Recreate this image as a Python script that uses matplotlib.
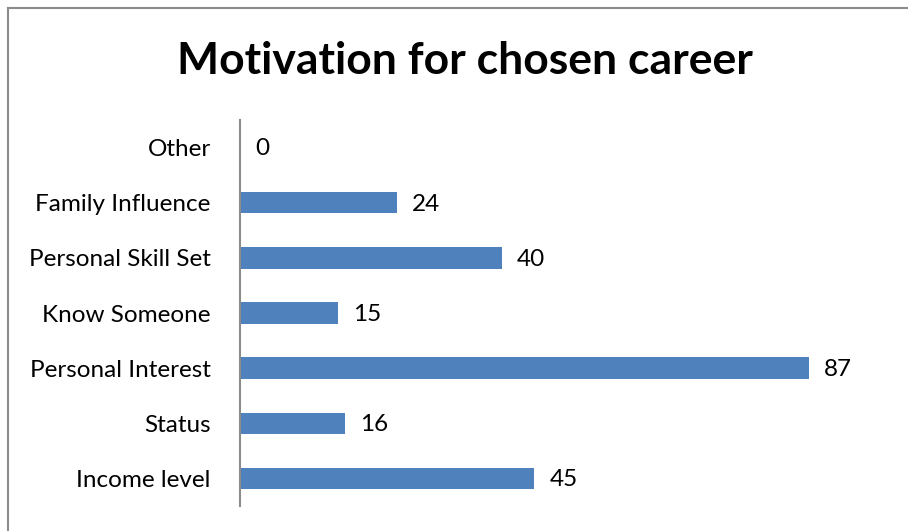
import matplotlib
matplotlib.use("Agg")
import matplotlib.pyplot as plt
from matplotlib.lines import Line2D

categories = ["Income level", "Status", "Personal Interest", "Know Someone",
              "Personal Skill Set", "Family Influence", "Other"]
values = [45, 16, 87, 15, 40, 24, 0]

plt.rcParams["font.family"] = ["Lato", "DejaVu Sans"]

W, H = 908, 531
fig = plt.figure(figsize=(W / 100, H / 100), dpi=100)
ax = fig.add_axes([240 / W, (H - 506) / H, (894 - 240) / W, (506 - 120) / H])

ypos = range(len(categories))
ax.barh(ypos, values, height=0.39, color="#4F81BD")
ax.set_xlim(0, 100)
ax.set_ylim(-0.5, len(categories) - 0.5)
ax.set_yticks(list(ypos))
ax.set_yticklabels(categories, fontsize=17.5)
ax.tick_params(axis="y", length=0, pad=21)
ax.set_xticks([])

for s in ["top", "right", "bottom"]:
    ax.spines[s].set_visible(False)
ax.spines["left"].set_color("#8c8c8c")
ax.spines["left"].set_linewidth(1.5)

for y, v in zip(ypos, values):
    ax.annotate(str(v), xy=(v, y), xytext=(11, -1), textcoords="offset points",
                ha="left", va="center", fontsize=17.5)

fig.text(465 / W, 1 - 61 / H, "Motivation for chosen career", ha="center",
         va="center", fontsize=32, fontweight="bold")

# chart frame (left and top edges)
fig.add_artist(Line2D([7.5 / W, 7.5 / W], [0, 1 - 7.5 / H], transform=fig.transFigure,
                      color="#8c8c8c", linewidth=1.5))
fig.add_artist(Line2D([7.5 / W, 1], [1 - 7.5 / H, 1 - 7.5 / H], transform=fig.transFigure,
                      color="#8c8c8c", linewidth=1.5))

fig.savefig("out.png", dpi=100)
